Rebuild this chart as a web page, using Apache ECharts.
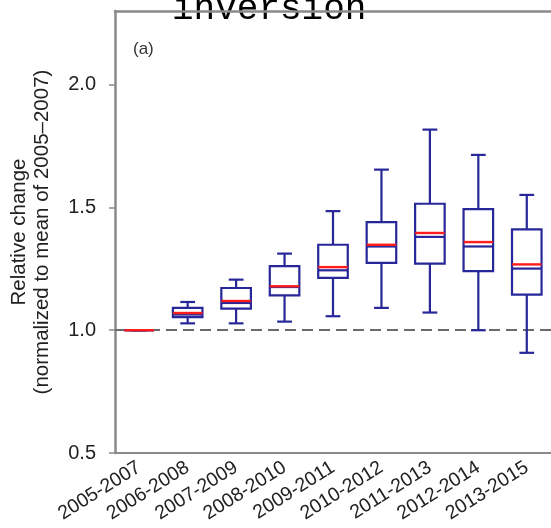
<!DOCTYPE html>
<html>
<head>
<meta charset="utf-8">
<script src="https://cdn.jsdelivr.net/npm/echarts@6/dist/echarts.min.js"></script>
<style>
  html, body { margin: 0; padding: 0; background: #fff; }
  #chart { width: 551px; height: 528px; }
</style>
</head>
<body>
<div id="chart"></div>
<script>
// Three-year windows
const periods = ['2005-2007', '2006-2008', '2007-2009', '2008-2010', '2009-2011',
                 '2010-2012', '2011-2013', '2012-2014', '2013-2015'];
// Box statistics of the relative change per window
const whiskerLow  = [1.000, 1.028, 1.028, 1.035, 1.057, 1.091, 1.072, 1.000, 0.908];
const quartile1   = [1.000, 1.053, 1.088, 1.142, 1.213, 1.274, 1.271, 1.241, 1.145];
const medians     = [1.000, 1.064, 1.111, 1.176, 1.244, 1.341, 1.380, 1.341, 1.251];
const quartile3   = [1.000, 1.091, 1.172, 1.261, 1.348, 1.440, 1.515, 1.493, 1.411];
const whiskerHigh = [1.000, 1.115, 1.206, 1.312, 1.485, 1.654, 1.817, 1.714, 1.551];
const means       = [1.000, 1.070, 1.119, 1.179, 1.257, 1.348, 1.396, 1.359, 1.268];
// Y axis tick values
const yTicks = [0.5, 1.0, 1.5, 2.0];

const rows = periods.map((p, i) => [i, whiskerLow[i], quartile1[i], medians[i],
                                    quartile3[i], whiskerHigh[i], means[i]]);

const navy = '#27279a';
const red = '#ff1c1c';
const frame = '#8a8a8a';
const font = 'Liberation Sans, Arial, sans-serif';

function renderBox(params, api) {
  const i = api.value(0);
  const lo = api.coord([i, api.value(1)]);
  const q1 = api.coord([i, api.value(2)]);
  const md = api.coord([i, api.value(3)]);
  const q3 = api.coord([i, api.value(4)]);
  const hi = api.coord([i, api.value(5)]);
  const mn = api.coord([i, api.value(6)]);
  const band = api.size([1, 0])[0];
  const bw = band * 0.61;
  const cw = bw * 0.5;
  const cx = lo[0];
  const stroke = { stroke: navy, lineWidth: 2.2, fill: null };
  const line = (x1, y1, x2, y2, style) => ({
    type: 'line', shape: { x1, y1, x2, y2 }, style
  });
  return {
    type: 'group',
    children: [
      line(cx, hi[1], cx, q3[1], stroke),
      line(cx, q1[1], cx, lo[1], stroke),
      line(cx - cw / 2, hi[1], cx + cw / 2, hi[1], stroke),
      line(cx - cw / 2, lo[1], cx + cw / 2, lo[1], stroke),
      { type: 'rect', shape: { x: cx - bw / 2, y: q3[1], width: bw, height: q1[1] - q3[1] }, style: stroke },
      line(cx - bw / 2, md[1], cx + bw / 2, md[1], stroke),
      line(cx - bw / 2, mn[1], cx + bw / 2, mn[1], { stroke: red, lineWidth: 2.4 })
    ]
  };
}

const chart = echarts.init(document.getElementById('chart'), null, { renderer: 'canvas' });
chart.setOption({
  animation: false,
  backgroundColor: '#fff',
  grid: { left: 112, top: 11, width: 441, bottom: 75, containLabel: false },
  xAxis: [{
    type: 'category',
    data: periods,
    boundaryGap: true,
    axisLine: { lineStyle: { color: frame, width: 2 } },
    axisTick: { alignWithLabel: true, length: 6, lineStyle: { color: frame, width: 1.5 } },
    axisLabel: { rotate: 32, fontSize: 19.5, color: '#222', fontFamily: font, margin: 13, interval: 0 },
    splitLine: { show: false }
  }, {
    type: 'category',
    data: periods,
    position: 'top',
    axisLine: { lineStyle: { color: frame, width: 2.5 } },
    axisTick: { show: false },
    axisLabel: { show: false }
  }],
  yAxis: {
    type: 'value',
    min: 0.5, max: 2.3, interval: 0.5,
    axisLine: { show: true, lineStyle: { color: frame, width: 2.5 } },
    axisTick: { show: true, length: 6, lineStyle: { color: frame, width: 1.5 } },
    axisLabel: {
      fontSize: 20, color: '#222', fontFamily: font, margin: 19, showMaxLabel: false,
      formatter: v => yTicks.includes(Math.round(v * 10) / 10) ? v.toFixed(1) : ''
    },
    splitLine: { show: false },
    name: 'Relative change\n(normalized to mean of 2005\u20132007)',
    nameLocation: 'middle',
    nameRotate: 90,
    nameGap: 61,
    nameTextStyle: { fontSize: 20.5, color: '#222', fontFamily: font, lineHeight: 23 }
  },
  series: [{
    type: 'custom',
    renderItem: renderBox,
    data: rows,
    encode: { x: 0, y: [1, 2, 3, 4, 5, 6] },
    z: 3,
    markLine: {
      silent: true,
      symbol: 'none',
      label: { show: false },
      lineStyle: { color: '#6b6b6b', type: [11, 6], width: 1.8 },
      data: [{ yAxis: 1.0 }],
      z: 2
    }
  }],
  graphic: [{
    type: 'text',
    left: 133, top: 41,
    style: { text: '(a)', font: '17px Liberation Sans, Arial, sans-serif', fill: '#333' }
  }, {
    type: 'text',
    left: 172, top: -9,
    z: -10,
    style: { text: 'inversion', font: '36px Liberation Mono, monospace', fill: '#000' }
  }]
});
</script>
</body>
</html>
